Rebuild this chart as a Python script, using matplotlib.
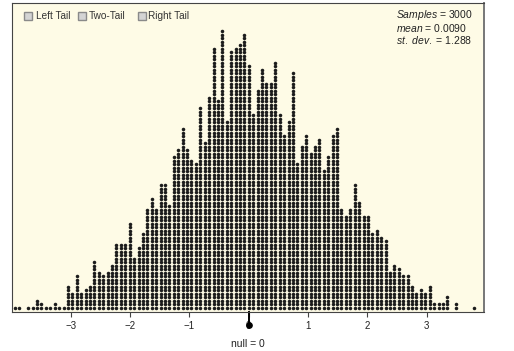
import numpy as np
import matplotlib.pyplot as plt

plt.rcParams['font.family'] = ['Liberation Sans', 'DejaVu Sans']
plt.rcParams['mathtext.fontset'] = 'custom'
plt.rcParams['mathtext.it'] = 'Liberation Sans:italic'
plt.rcParams['mathtext.rm'] = 'Liberation Sans'

# dots per bin, read left to right off the picture
counts = [1, 1, 0, 1, 1, 3, 2, 1, 1, 2, 1, 1,
          7, 5, 10, 5, 6, 7, 14, 11, 10, 11, 13,
          19, 19, 19, 25, 15, 18, 22,
          29, 32, 29, 36, 36, 30,
          44, 46, 52, 46, 43, 42,
          58, 48, 61, 75, 60, 80, 54,
          74, 75, 76, 79, 70,
          56, 63, 69, 65, 65, 71,
          56, 50, 54, 68, 42, 47,
          50, 45, 47, 49, 40, 44, 50, 52,
          29, 27, 29, 36, 31, 27, 27, 22,
          23, 21, 20, 11, 13, 12, 10, 10,
          7, 5, 6, 5, 7, 2, 2, 2, 4, 0, 2, 0, 0, 0, 1]
first_bin = -3.943   # centre of the leftmost bin
bin_width = 0.0744

n_samples = 3000
mean_val = '0.0090'
sd_val = '1.288'
null_value = 0
tick_vals = [-3, -2, -1, 0, 1, 2, 3]
tick_labels = ['\u22123', '\u22122', '\u22121', '0', '1', '2', '3']
legend_labels = ['Left Tail', 'Two-Tail', 'Right Tail']

# stack the dots
xs, ys = [], []
for i, c in enumerate(counts):
    for j in range(c):
        xs.append(first_bin + i * bin_width)
        ys.append(j)

W, H = 514, 351
fig = plt.figure(figsize=(W / 100, H / 100), dpi=100)
ax = fig.add_axes([12.3 / W, 1 - 312.3 / H, (484 - 12.3) / W, (312.3 - 3.3) / H])
ax.set_facecolor('#fefbe6')
ax.scatter(xs, ys, s=6.5, c='#1c1c1c', linewidths=0)

ax.set_xlim(-3.988, 3.966)
ax.set_ylim(-1.31, 86.97)
ax.set_yticks([])
ax.set_xticks(tick_vals)
ax.set_xticklabels(tick_labels, fontsize=7, color='#222222')
ax.tick_params(axis='x', direction='out', length=3.5, width=0.8, color='#444444', pad=2.5)
for s in ax.spines.values():
    s.set_color('#444444')
    s.set_linewidth(0.8)
ax.spines['right'].set_color('#777777')
ax.spines['right'].set_linewidth(1.4)

ax.set_xlabel('null = %d' % null_value, fontsize=7.5, color='#222222', labelpad=6)

# null marker under the axis
tr = ax.get_xaxis_transform()
ax.plot([null_value, null_value], [0, -0.035], color='black', lw=1.4, transform=tr, clip_on=False)
ax.plot([null_value], [-0.04], marker='o', ms=3.8, color='black', transform=tr, clip_on=False)

# tail check boxes
box_x = [27.5, 82.0, 141.5]
text_x = [35.5, 88.5, 148.0]
for bx, tx, lab in zip(box_x, text_x, legend_labels):
    fig.lines.append(plt.Line2D([bx / W], [1 - 16 / H], marker='s', ms=5.8, mfc='#d4d4d4',
                                mec='#8a8a8a', mew=1.0, transform=fig.transFigure))
    fig.text(tx / W, 1 - 16 / H, lab, fontsize=7.2, color='#333333', va='center', ha='left')

# summary stats
fig.text(396 / W, 1 - 15 / H, r'$\mathit{Samples}$ = %d' % n_samples, fontsize=7.5,
         color='#222222', va='center', ha='left')
fig.text(396 / W, 1 - 27.5 / H, r'$\mathit{mean}$ = ' + mean_val, fontsize=7.5,
         color='#222222', va='center', ha='left')
fig.text(396 / W, 1 - 40 / H, r'$\mathit{st.\ dev.}$ = ' + sd_val, fontsize=7.5,
         color='#222222', va='center', ha='left')

fig.savefig('out.png', dpi=100)
